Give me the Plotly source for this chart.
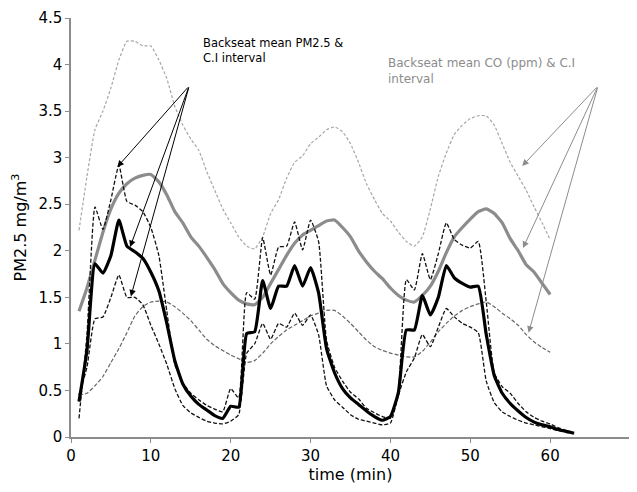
import plotly.graph_objects as go

minutes = list(range(1, 64))

pm_mean = [0.38, 0.93, 1.86, 1.76, 1.95, 2.33, 2.05, 1.99, 1.92, 1.77,
           1.57, 1.22, 0.82, 0.57, 0.44, 0.35, 0.29, 0.23, 0.2, 0.33,
           0.32, 1.11, 1.13, 1.68, 1.38, 1.62, 1.62, 1.84, 1.62, 1.82,
           1.55, 0.95, 0.69, 0.52, 0.42, 0.35, 0.28, 0.22, 0.18, 0.22,
           0.48, 1.15, 1.15, 1.52, 1.31, 1.5, 1.84, 1.71, 1.65, 1.61,
           1.62, 1.1, 0.66, 0.47, 0.36, 0.28, 0.21, 0.16, 0.13, 0.11,
           0.08, 0.06, 0.04]

pm_upper = [0.2, 1.1, 2.47, 2.23, 2.55, 2.92, 2.53, 2.49, 2.42, 2.25,
            1.95, 1.35, 0.78, 0.58, 0.47, 0.4, 0.34, 0.3, 0.27, 0.52,
            0.42, 1.55, 1.48, 2.14, 1.74, 2.04, 2.05, 2.31, 2.01, 2.33,
            2.1, 1.04, 0.75, 0.6, 0.48, 0.41, 0.31, 0.26, 0.22, 0.2,
            0.5, 1.69, 1.58, 1.97, 1.69, 1.97, 2.3, 2.12, 2.06, 2.03,
            2.1, 1.45, 0.69, 0.54, 0.47, 0.36, 0.27, 0.21, 0.17, 0.14,
            0.1, 0.07, 0.05]

pm_lower = [0.45, 0.75, 1.27, 1.29, 1.5, 1.74, 1.5, 1.5, 1.42, 1.2,
            1.0, 0.78, 0.52, 0.34, 0.26, 0.21, 0.17, 0.15, 0.14, 0.17,
            0.24, 0.9, 1.0, 1.22, 1.05, 1.22, 1.18, 1.33, 1.2, 1.31,
            1.1, 0.55, 0.4, 0.32, 0.24, 0.19, 0.17, 0.15, 0.13, 0.15,
            0.45, 0.7, 0.85, 1.1, 0.97, 1.18, 1.38, 1.29, 1.22, 1.18,
            1.12, 0.6, 0.37, 0.27, 0.22, 0.18, 0.15, 0.13, 0.11, 0.09,
            0.07, 0.05, 0.04]

co_minutes = list(range(1, 61))

co_mean = [1.35, 1.6, 1.9, 2.2, 2.45, 2.62, 2.72, 2.78, 2.81, 2.82,
           2.74, 2.6, 2.42, 2.3, 2.15, 2.05, 1.93, 1.8, 1.65, 1.55,
           1.47, 1.43, 1.42, 1.5, 1.65, 1.8, 1.95, 2.08, 2.17, 2.22,
           2.27, 2.32, 2.33, 2.25, 2.15, 2.0, 1.88, 1.78, 1.7, 1.6,
           1.52, 1.47, 1.45, 1.52, 1.62, 1.78, 1.98, 2.15, 2.25, 2.34,
           2.42, 2.45, 2.4, 2.3, 2.13, 2.0, 1.85, 1.77, 1.65, 1.53]

co_upper = [2.22, 2.8, 3.3, 3.5, 3.75, 4.05, 4.25, 4.25, 4.2, 4.2,
            4.05, 3.85, 3.55, 3.35, 3.2, 3.08, 2.85, 2.65, 2.45, 2.3,
            2.15, 2.05, 2.02, 2.15, 2.4, 2.55, 2.78, 2.95, 3.02, 3.15,
            3.22, 3.3, 3.33, 3.28, 3.15, 2.95, 2.72, 2.55, 2.4, 2.32,
            2.2, 2.1, 2.05, 2.15, 2.45, 2.8, 3.05, 3.25, 3.35, 3.42,
            3.45, 3.45, 3.35, 3.15, 2.95, 2.8, 2.65, 2.47, 2.3, 2.12]

co_lower = [0.45, 0.47, 0.55, 0.65, 0.8, 0.95, 1.12, 1.3, 1.4, 1.45,
            1.46, 1.45, 1.4, 1.33, 1.25, 1.15, 1.05, 0.98, 0.93, 0.88,
            0.84, 0.8, 0.82, 0.9, 1.0, 1.08, 1.15, 1.2, 1.25, 1.3,
            1.33, 1.36, 1.36, 1.3, 1.22, 1.13, 1.04, 0.97, 0.93, 0.9,
            0.88, 0.86, 0.86, 0.92, 1.02, 1.13, 1.22, 1.3, 1.36, 1.4,
            1.43, 1.45, 1.4, 1.33, 1.27, 1.2, 1.1, 1.02, 0.96, 0.91]

FONT = "DejaVu Sans"
SM = 0.45

fig = go.Figure()

fig.add_trace(go.Scatter(x=co_minutes, y=co_upper, mode="lines",
                         line=dict(color="#a6a6a6", width=1.2, dash="3px,2px",
                                   shape="spline", smoothing=SM)))
fig.add_trace(go.Scatter(x=co_minutes, y=co_lower, mode="lines",
                         line=dict(color="#666666", width=1.2, dash="4px,2px",
                                   shape="spline", smoothing=SM)))
fig.add_trace(go.Scatter(x=co_minutes, y=co_mean, mode="lines",
                         line=dict(color="#8c8c8c", width=3.2,
                                   shape="spline", smoothing=SM)))
fig.add_trace(go.Scatter(x=minutes, y=pm_upper, mode="lines",
                         line=dict(color="#111111", width=1.3, dash="4px,2px",
                                   shape="spline", smoothing=SM)))
fig.add_trace(go.Scatter(x=minutes, y=pm_lower, mode="lines",
                         line=dict(color="#111111", width=1.3, dash="4px,2px",
                                   shape="spline", smoothing=SM)))
fig.add_trace(go.Scatter(x=minutes, y=pm_mean, mode="lines",
                         line=dict(color="#000000", width=3.2,
                                   shape="spline", smoothing=SM)))

# Arrows for PM2.5 label
pm_tail = (14.8, 3.77)
pm_tips = [(5.8, 2.9), (7.4, 2.04), (7.5, 1.51)]
for tx, ty in pm_tips:
    fig.add_annotation(x=tx, y=ty, ax=pm_tail[0], ay=pm_tail[1],
                       xref="x", yref="y", axref="x", ayref="y",
                       text="", showarrow=True, arrowhead=2, arrowsize=1.3,
                       arrowwidth=1, arrowcolor="#000000")

co_tail = (66.0, 3.77)
co_tips = [(56.5, 2.91), (56.6, 2.03), (57.3, 1.12)]
for tx, ty in co_tips:
    fig.add_annotation(x=tx, y=ty, ax=co_tail[0], ay=co_tail[1],
                       xref="x", yref="y", axref="x", ayref="y",
                       text="", showarrow=True, arrowhead=2, arrowsize=1.3,
                       arrowwidth=1, arrowcolor="#8c8c8c")

fig.add_annotation(x=16.3, y=4.15, xref="x", yref="y", xanchor="left", yanchor="middle",
                   text="Backseat mean PM2.5 &amp;<br>C.I interval", showarrow=False,
                   align="left", font=dict(family=FONT, size=11.5, color="#000000"))
fig.add_annotation(x=39.5, y=3.93, xref="x", yref="y", xanchor="left", yanchor="middle",
                   text="Backseat mean CO (ppm) &amp; C.I<br>interval", showarrow=False,
                   align="left", font=dict(family=FONT, size=12, color="#8c8c8c"))

# the page body has an 8px default margin, so the figure is sized to fit after it
fig.update_layout(
    width=629, height=484,
    autosize=False,
    margin=dict(l=63, r=7, t=10, b=55, autoexpand=False),
    paper_bgcolor="white", plot_bgcolor="white",
    showlegend=False,
    font=dict(family=FONT, size=15, color="#000000"),
    xaxis=dict(range=[0, 70], dtick=10, tick0=0, showgrid=False, zeroline=False,
               showline=True, linecolor="#8c8c8c", linewidth=1.5,
               ticks="outside", ticklen=4, tickcolor="#8c8c8c", automargin=False,
               tickfont=dict(family=FONT, size=15),
               title=dict(text="time (min)", font=dict(family=FONT, size=16), standoff=4)),
    yaxis=dict(range=[0, 4.5], dtick=0.5, tick0=0, showgrid=False, zeroline=False,
               showline=True, linecolor="#8c8c8c", linewidth=1.5,
               ticks="outside", ticklen=4, tickcolor="#8c8c8c", automargin=False,
               tickfont=dict(family=FONT, size=15),
               title=dict(text="PM2.5 mg/m<sup>3</sup>", font=dict(family=FONT, size=16), standoff=8)),
)

fig.write_html("out.html", config={"responsive": False})
